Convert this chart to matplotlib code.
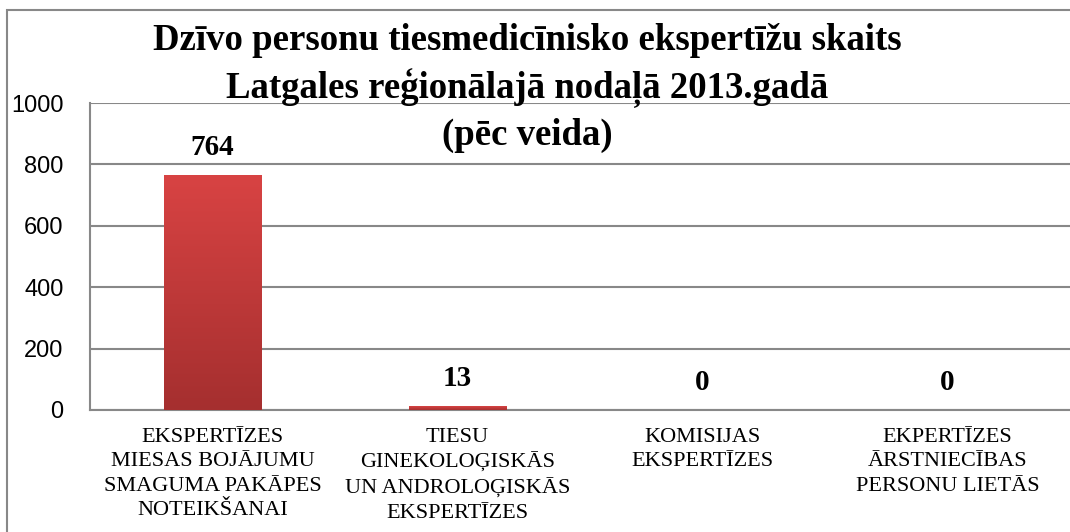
import matplotlib.pyplot as plt
from matplotlib.colors import LinearSegmentedColormap
from matplotlib.patches import Rectangle
import numpy as np

# data
kategorijas = ["EKSPERTĪZES\nMIESAS BOJĀJUMU\nSMAGUMA PAKĀPES\nNOTEIKŠANAI",
               "TIESU\nGINEKOLOĢISKĀS\nUN ANDROLOĢISKĀS\nEKSPERTĪZES",
               "KOMISIJAS\nEKSPERTĪZES",
               "EKPERTĪZES\nĀRSTNIECĪBAS\nPERSONU LIETĀS"]
skaits = [764, 13, 0, 0]
y_ticks = [0, 200, 400, 600, 800, 1000]
virsraksts = ["Dzīvo personu tiesmedicīnisko ekspertīžu skaits",
              "Latgales reģionālajā nodaļā 2013.gadā",
              "(pēc veida)"]

fig = plt.figure(figsize=(10.7, 5.32), dpi=100)
ax = fig.add_axes([90 / 1070, 122 / 532, 980 / 1070, 307 / 532])

x = np.arange(len(skaits))
bars = ax.bar(x, skaits, width=0.4, color="#c63b3b", zorder=3)

# red gradient inside each bar
cmap = LinearSegmentedColormap.from_list("sarkans", ["#a52f2f", "#d84343"])
grad = np.linspace(0, 1, 256).reshape(-1, 1)
for b in bars:
    if b.get_height() <= 0:
        continue
    im = ax.imshow(grad, cmap=cmap, origin="lower", aspect="auto", zorder=3,
                   extent=[b.get_x(), b.get_x() + b.get_width(), 0, b.get_height()])
    im.set_clip_path(b)

for xi, v in zip(x, skaits):
    ax.annotate(str(v), (xi, v), xytext=(0, 20), textcoords="offset points",
                ha="center", va="center", fontsize=21, fontweight="bold",
                family="Liberation Serif")

ax.set_xlim(-0.5, len(skaits) - 0.5)
ax.set_ylim(0, 1000)
ax.set_yticks(y_ticks)
ax.set_yticklabels([str(t) for t in y_ticks], family="Liberation Sans", fontsize=17)
ax.set_xticks(x)
ax.set_xticklabels(kategorijas, family="Liberation Serif", fontsize=16, linespacing=1.38)
ax.tick_params(axis="y", length=0, pad=19)
ax.tick_params(axis="x", length=0, pad=13)

ax.grid(axis="y", color="#888888", linewidth=1.5, zorder=0)
for s in ["top", "right"]:
    ax.spines[s].set_visible(False)
for s in ["left", "bottom"]:
    ax.spines[s].set_color("#888888")
    ax.spines[s].set_linewidth(1.5)

# title, one text per line
for rinda, y_pix in zip(virsraksts, [41, 88, 135]):
    fig.text(527 / 1070, 1 - y_pix / 532, rinda, ha="center", va="center",
             fontsize=26.5, fontweight="bold", family="Liberation Serif")

# chart frame (cropped on right and bottom)
fig.patches.append(Rectangle((7 / 1070, -0.1), 1.2, 1 - 10 / 532 + 0.1,
                             transform=fig.transFigure, fill=False,
                             edgecolor="#888888", linewidth=1.5))

fig.savefig("out.png", dpi=100)
